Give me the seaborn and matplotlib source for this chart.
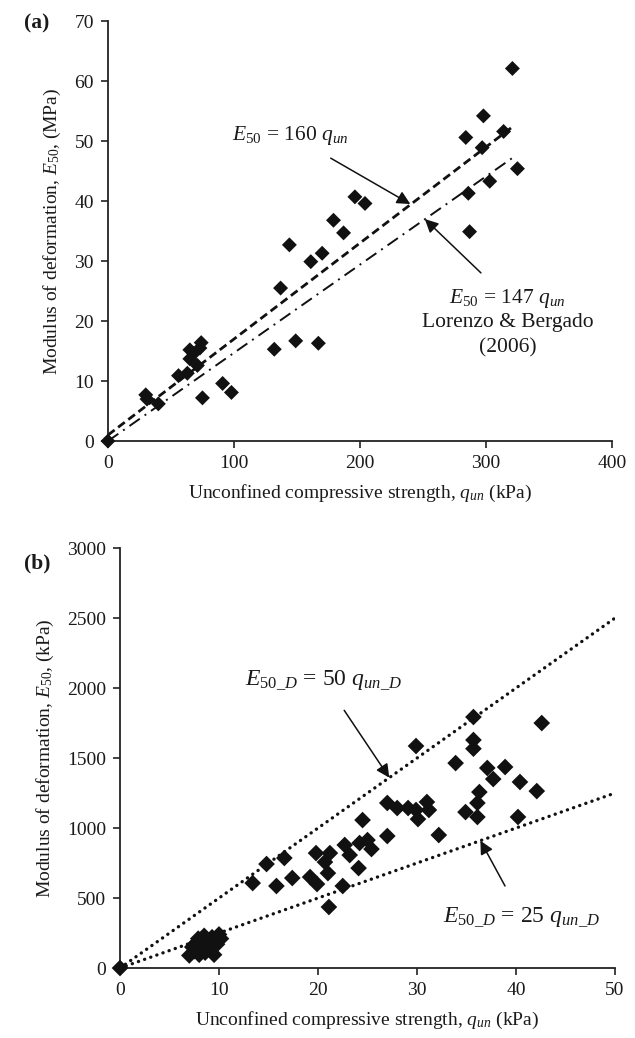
import numpy as np
import matplotlib
matplotlib.use("Agg")
import matplotlib.pyplot as plt
import seaborn as sns

# ---------------- data ----------------
# Panel (a): unconfined compressive strength (kPa) vs E50 (MPa)
q_a = [0, 30, 31, 40, 56, 63, 65, 65, 68, 71, 73, 74, 75, 91, 98,
       132, 137, 144, 149, 161, 167, 170, 179, 187, 196, 204,
       284, 286, 287, 297, 298, 303, 314, 321, 325]
E_a = [0, 7.7, 7.0, 6.2, 10.9, 11.3, 15.2, 13.7, 14.6, 12.6, 15.5, 16.4, 7.2, 9.6, 8.1,
       15.3, 25.5, 32.7, 16.7, 29.9, 16.3, 31.3, 36.8, 34.7, 40.7, 39.6,
       50.6, 41.3, 34.9, 48.9, 54.2, 43.3, 51.6, 62.1, 45.4]
slopes_a = [160, 147]          # E50 = k * q_un  (kPa -> MPa via /1000)
intercepts_a = [1.0, 0.0]
qline_a = [0, 322]

# Panel (b): q_un (kPa) vs E50 (kPa)
q_b = [0, 7.0, 7.3, 7.5, 7.7, 7.9, 8.0, 8.2, 8.5, 8.6, 8.9, 9.1, 9.3, 9.5, 9.8, 10.0, 10.2,
       13.4, 14.8, 15.8, 16.6, 17.4, 19.2, 19.8, 19.9, 20.7, 21.2, 21.0, 21.1,
       22.5, 22.7, 23.2, 24.1, 24.2, 24.5, 25.0, 25.4, 27.0, 27.0,
       28.0, 29.1, 29.9, 30.1, 31.0, 31.2, 32.2, 29.9, 33.9, 34.9,
       35.7, 35.7, 35.7, 36.1, 36.1, 36.3, 37.1, 37.7, 38.9, 40.2, 40.4, 42.1, 42.6]
E_b = [0, 90, 150, 120, 180, 210, 95, 160, 230, 110, 190, 140, 220, 95, 170, 240, 210,
       607, 743, 586, 786, 643, 650, 821, 600, 757, 821, 678, 436,
       586, 879, 807, 714, 893, 1057, 914, 850, 1179, 943,
       1143, 1143, 1129, 1064, 1186, 1129, 950, 1586, 1464, 1114,
       1793, 1629, 1567, 1179, 1079, 1257, 1429, 1350, 1436, 1079, 1329, 1264, 1750]
slopes_b = [50, 25]
qline_b = [0, 50]

xticks_a = [0, 100, 200, 300, 400]
yticks_a = [0, 10, 20, 30, 40, 50, 60, 70]
xticks_b = [0, 10, 20, 30, 40, 50]
yticks_b = [0, 500, 1000, 1500, 2000, 2500, 3000]

# ---------------- style ----------------
sns.set_theme(style="ticks")
plt.rcParams["font.family"] = ["Liberation Serif", "DejaVu Serif"]
plt.rcParams["mathtext.fontset"] = "custom"
plt.rcParams["mathtext.rm"] = "Liberation Serif"
plt.rcParams["mathtext.it"] = "Liberation Serif:italic"
plt.rcParams["mathtext.bf"] = "Liberation Serif:bold"

FS = 14
TXT = "#1a1a1a"

fig = plt.figure(figsize=(6.35, 10.38), dpi=100)
axA = fig.add_axes([0.170, 0.5751, 0.7937, 0.4046])
axB = fig.add_axes([0.189, 0.0674, 0.7795, 0.4046])


def style_axis(ax):
    sns.despine(ax=ax)
    for s in ["left", "bottom"]:
        ax.spines[s].set_color("#222222")
        ax.spines[s].set_linewidth(1.3)
    ax.tick_params(direction="out", length=5, width=1.2, colors="#222222",
                   labelsize=FS, labelcolor=TXT, pad=5)
    ax.grid(False)


# ---------------- panel (a) ----------------
axA.set_xlim(0, 400)
axA.set_ylim(0, 70)
ql = np.array(qline_a, dtype=float)
l1, = axA.plot(ql, slopes_a[0] * ql / 1000 + intercepts_a[0], color="#111111", lw=2.0)
l1.set_dashes([3, 1.6])
l2, = axA.plot(ql, slopes_a[1] * ql / 1000 + intercepts_a[1], color="#111111", lw=1.4)
l2.set_dashes([6.5, 3, 1, 3])
sns.scatterplot(x=q_a, y=E_a, marker="D", s=58, color="#111111", edgecolor="none",
                ax=axA, clip_on=False, zorder=5, legend=False)
axA.set_xticks(xticks_a)
axA.set_yticks(yticks_a)
style_axis(axA)
axA.set_xlabel(r"Unconfined compressive strength, $\mathit{q_{un}}$ (kPa)",
               fontsize=FS, color=TXT, labelpad=8)
axA.set_ylabel(r"Modulus of deformation, $\mathit{E_{50}}$, (MPa)",
               fontsize=FS, color=TXT, labelpad=8)

FA = FS + 1.5
axA.annotate(r"$\mathit{E_{50}}$ = 160 $\mathit{q_{un}}$", xy=(240, 39.5), xytext=(145, 51),
             ha="center", va="center", fontsize=FA, color=TXT,
             arrowprops=dict(arrowstyle="-|>", color="#111111", lw=1.1,
                             mutation_scale=20, shrinkA=12, shrinkB=0))
axA.annotate(r"$\mathit{E_{50}}$ = 147 $\mathit{q_{un}}$", xy=(251.5, 37.0), xytext=(317, 23.8),
             ha="center", va="center", fontsize=FA, color=TXT,
             arrowprops=dict(arrowstyle="-|>", color="#111111", lw=1.1,
                             mutation_scale=20, shrinkA=11, shrinkB=0))
axA.text(317, 19.7, "Lorenzo & Bergado", ha="center", va="center", fontsize=FA, color=TXT)
axA.text(317, 15.6, "(2006)", ha="center", va="center", fontsize=FA, color=TXT)
fig.text(37 / 635, 1 - 23 / 1038, "(a)", ha="center", va="center",
         fontsize=FS + 1.5, fontweight="bold", color=TXT)

# ---------------- panel (b) ----------------
axB.set_xlim(0, 50)
axB.set_ylim(0, 3000)
qb = np.array(qline_b, dtype=float)
for k in slopes_b:
    ln, = axB.plot(qb, k * qb, color="#111111", lw=2.4, dash_capstyle="round")
    ln.set_dashes([0.05, 1.9])
sns.scatterplot(x=q_b, y=E_b, marker="D", s=72, color="#111111", edgecolor="none",
                ax=axB, clip_on=False, zorder=5, legend=False)
axB.set_xticks(xticks_b)
axB.set_yticks(yticks_b)
style_axis(axB)
axB.set_xlabel(r"Unconfined compressive strength, $\mathit{q_{un}}$ (kPa)",
               fontsize=FS, color=TXT, labelpad=8)
axB.set_ylabel(r"Modulus of deformation, $\mathit{E_{50}}$, (kPa)",
               fontsize=FS, color=TXT, labelpad=8)

FB = FS + 3
axB.annotate(r"$\mathit{E_{50\_D}}$ = 50 $\mathit{q_{un\_D}}$", xy=(27.2, 1360), xytext=(20.6, 2057),
             ha="center", va="center", fontsize=FB, color=TXT,
             arrowprops=dict(arrowstyle="-|>", color="#111111", lw=1.1,
                             mutation_scale=20, shrinkA=13, shrinkB=0))
axB.annotate(r"$\mathit{E_{50\_D}}$ = 25 $\mathit{q_{un\_D}}$", xy=(36.4, 910), xytext=(40.6, 364),
             ha="center", va="center", fontsize=FB, color=TXT,
             arrowprops=dict(arrowstyle="-|>", color="#111111", lw=1.1,
                             mutation_scale=20, shrinkA=13, shrinkB=0))
fig.text(37 / 635, 1 - 563 / 1038, "(b)", ha="center", va="center",
         fontsize=FS + 1.5, fontweight="bold", color=TXT)

fig.savefig("out.png", dpi=100, facecolor="white")
